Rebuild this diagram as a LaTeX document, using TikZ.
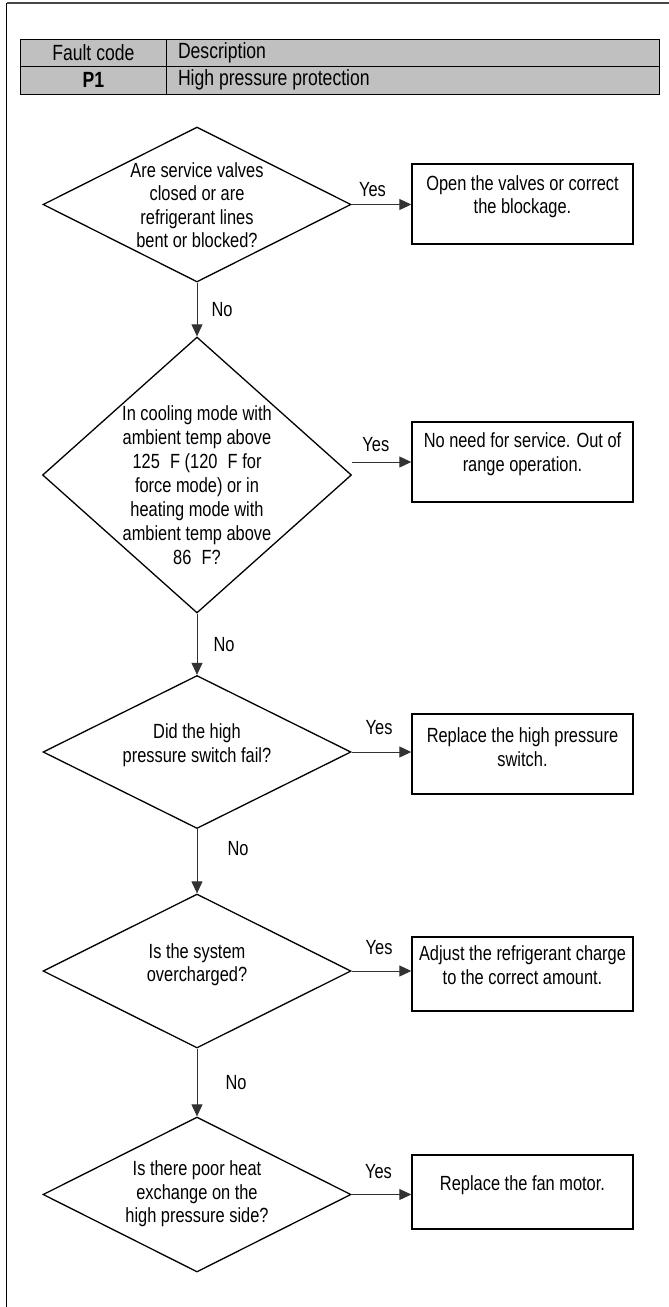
\documentclass[tikz,border=0pt]{standalone}
\usepackage{fontspec}
\setmainfont{Liberation Sans}[FakeStretch=0.80]
\usetikzlibrary{shapes.geometric,arrows.meta,calc}
\definecolor{cellgray}{RGB}{192,192,192}
\definecolor{framegray}{RGB}{70,70,70}
\definecolor{linegray}{RGB}{50,50,50}
\tikzset{
  dia/.style={draw=black, line width=1.3pt, shape=diamond, inner sep=0pt, minimum width=308pt},
  dtext/.style={align=center, font=\fontsize{20.5}{23.5}\selectfont, inner sep=0pt},
  box/.style={draw=black, line width=1.4pt, minimum width=221pt, inner sep=0pt},
  btext/.style={align=center, font=\fontsize{20.5}{23.5}\selectfont, inner sep=0pt},
  arr/.style={line width=1pt, draw=linegray, -{Triangle[length=12pt,width=11pt]}},
  lab/.style={font=\fontsize{20.5}{22}\selectfont, inner sep=0pt},
  cell/.style={draw=black, line width=1pt, fill=cellgray, minimum height=27.5pt, inner sep=0pt, font=\fontsize{22}{24}\selectfont},
  frameline/.style={line width=2pt, draw=framegray}
}
\begin{document}
\begin{tikzpicture}[x=1pt,y=-1pt]
\useasboundingbox (0,0) rectangle (669,1307);
% page frame
\coordinate (fTL) at (6.5,3);
\coordinate (fTR) at (669,3);
\coordinate (fBL) at (6.5,1307);
\draw[frameline] (fTL) -- (fTR);
\draw[line width=1.6pt, black] (fTL) -- (fBL);
% table
\node[cell, minimum width=145.3pt] (c11) at (93.35,52.75) {Fault code};
\node[cell, text width=469pt, inner xsep=12pt, align=flush left] (c12) at (412.5,52.75) {Description};
\node[cell, minimum width=145.3pt, font=\fontsize{22}{24}\selectfont\bfseries] (c21) at (93.35,80.25) {P1};
\node[cell, text width=469pt, inner xsep=12pt, align=flush left] (c22) at (412.5,80.25) {High pressure protection};
% diamonds
\node[dia, minimum height=155pt] (d1) at (197,204.5) {};
\node[dtext] (t1) at (197,205) {Are service valves\\closed or are\\refrigerant lines\\bent or blocked?};
\node[dia, minimum width=309pt, minimum height=276pt] (d2) at (197,475) {};
\node[dtext, font=\fontsize{20.5}{24}\selectfont] (t2) at (197,485) {In cooling mode with\\ambient temp above\\125\enspace F (120\enspace F for\\force mode) or in\\heating mode with\\ambient temp above\\86\enspace F?};
\node[dia, minimum height=153pt] (d3) at (197,752) {};
\node[dtext] (t3) at (197,745) {Did the high\\pressure switch fail?};
\node[dia, minimum height=154pt] (d4) at (197,971) {};
\node[dtext] (t4) at (197,964.5) {Is the system\\overcharged?};
\node[dia, minimum height=155pt] (d5) at (197,1194.5) {};
\node[dtext] (t5) at (197,1194) {Is there poor heat\\exchange on the\\high pressure side?};
% boxes
\node[box, minimum height=80pt] (b1) at (522.5,204) {};
\node[btext] (bt1) at (522.5,196.5) {Open the valves or correct\\the blockage.};
\node[box, minimum height=80pt] (b2) at (522.5,462) {};
\node[btext] (bt2) at (522.5,454) {No need for service. Out of\\range operation.};
\node[box, minimum height=80pt] (b3) at (522.5,754) {};
\node[btext] (bt3) at (522.5,747) {Replace the high pressure\\switch.};
\node[box, minimum height=74pt] (b4) at (522.5,974) {};
\node[btext] (bt4) at (522.5,965) {Adjust the refrigerant charge\\to the correct amount.};
\node[box, minimum height=74pt] (b5) at (522.5,1192) {};
\node[btext] (bt5) at (522.5,1185) {Replace the fan motor.};
% yes connectors
\draw[arr] (d1.east) -- node[lab, pos=0.35, yshift=15pt] (y1) {Yes} (d1.east -| b1.west);
\draw[arr] (d2.east |- b2.west) -- node[lab, pos=0.4, yshift=17pt] (y2) {Yes} (b2.west);
\draw[arr] (d3.east) -- node[lab, pos=0.46, yshift=24pt] (y3) {Yes} (d3.east -| b3.west);
\draw[arr] (d4.east) -- node[lab, pos=0.46, yshift=23pt] (y4) {Yes} (d4.east -| b4.west);
\draw[arr] (d5.east) -- node[lab, pos=0.45, yshift=23pt] (y5) {Yes} (d5.east -| b5.west);
% no connectors
\draw[arr] (d1.south) -- node[lab, pos=0.5, xshift=25pt] (n1) {No} (d2.north);
\draw[arr] (d2.south) -- node[lab, pos=0.5, xshift=27pt] (n2) {No} (d3.north);
\draw[arr] (d3.south) -- node[lab, pos=0.5, xshift=41pt, yshift=13pt] (n3) {No} (d4.north);
\draw[arr] (d4.south) -- node[lab, pos=0.5, xshift=39pt] (n4) {No} (d5.north);
\end{tikzpicture}
\end{document}
